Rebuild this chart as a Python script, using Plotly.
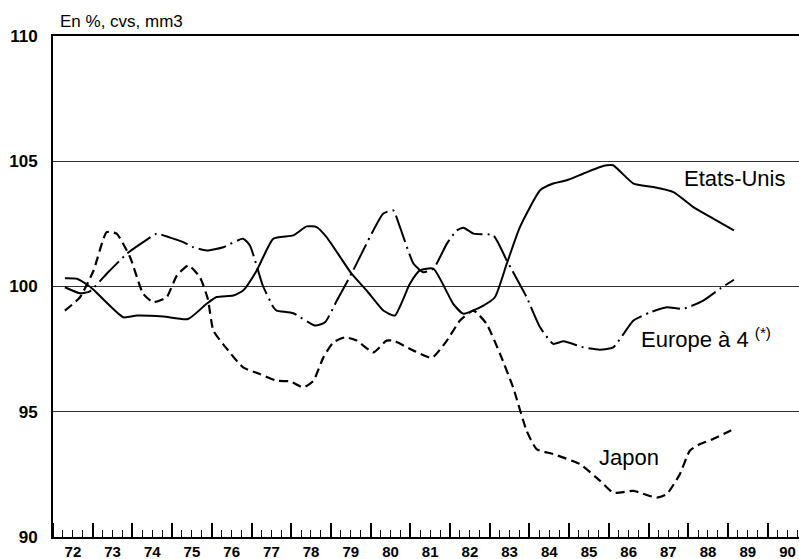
import pandas as pd
import plotly.graph_objects as go

# ---- Data (decimal years on the 19xx scale, index values in %) ----
us_x = [72.30, 72.60, 72.89, 73.02, 73.77, 74.11, 74.78, 75.40, 75.87, 76.12, 76.54, 76.79,
        77.13, 77.55, 78.05, 78.39, 78.64, 78.89, 79.52, 79.90, 80.32, 80.61, 80.99, 81.24,
        81.58, 82.08, 82.34, 82.84, 83.13, 83.43, 83.76, 84.27, 84.60, 84.94, 85.36, 85.78,
        85.95, 86.11, 86.62, 87.12, 87.63, 88.13, 88.63, 89.15]
us_y = [100.33, 100.31, 100.04, 99.87, 98.77, 98.84, 98.80, 98.70, 99.31, 99.58, 99.64, 99.84,
        100.64, 101.91, 102.04, 102.40, 102.37, 101.97, 100.51, 99.84, 99.04, 98.84, 100.11, 100.64,
        100.71, 99.31, 98.91, 99.24, 99.57, 100.91, 102.37, 103.84, 104.11, 104.24, 104.51, 104.77,
        104.84, 104.84, 104.11, 103.97, 103.77, 103.17, 102.71, 102.24]

eu_x = [72.30, 72.68, 72.93, 73.35, 73.86, 74.27, 74.61, 74.95, 75.28, 75.53, 75.87, 76.29,
        76.79, 76.96, 77.28, 77.55, 77.63, 78.05, 78.60, 78.85, 79.15, 79.56, 79.98, 80.32,
        80.57, 80.74, 81.08, 81.33, 81.58, 81.92, 82.17, 82.34, 82.59, 83.09, 83.43, 83.93,
        84.27, 84.60, 84.86, 85.36, 85.78, 86.11, 86.62, 87.04, 87.46, 87.88, 88.38, 88.80, 89.15]
eu_y = [99.97, 99.73, 99.81, 100.51, 101.31, 101.77, 102.11, 101.95, 101.77, 101.57, 101.44, 101.57,
        101.91, 101.64, 100.05, 99.17, 99.04, 98.93, 98.44, 98.57, 99.44, 100.64, 101.97, 102.91,
        103.04, 102.37, 100.91, 100.57, 100.71, 101.71, 102.24, 102.35, 102.11, 102.04, 101.04, 99.57,
        98.37, 97.71, 97.81, 97.57, 97.48, 97.57, 98.64, 98.97, 99.17, 99.11, 99.44, 99.91, 100.27]

jp_x = [72.30, 72.68, 73.02, 73.35, 73.60, 73.94, 74.27, 74.53, 74.86, 75.12, 75.41, 75.70,
        75.90, 76.04, 76.38, 76.79, 77.21, 77.63, 77.97, 78.31, 78.56, 78.81, 79.06, 79.36,
        79.65, 80.07, 80.40, 80.57, 81.08, 81.54, 81.92, 82.25, 82.59, 82.92, 83.26, 83.59,
        83.93, 84.18, 84.60, 85.27, 85.78, 86.11, 86.62, 87.21, 87.46, 87.79, 88.04, 88.30,
        88.63, 88.97, 89.15]
jp_y = [99.04, 99.57, 100.64, 102.17, 102.11, 101.17, 99.71, 99.37, 99.57, 100.44, 100.84, 100.37,
        99.50, 98.24, 97.51, 96.77, 96.51, 96.24, 96.21, 95.97, 96.24, 97.17, 97.77, 97.97,
        97.84, 97.37, 97.84, 97.84, 97.44, 97.15, 97.84, 98.64, 99.04, 98.51, 97.31, 95.97,
        94.24, 93.51, 93.31, 92.91, 92.24, 91.77, 91.84, 91.57, 91.71, 92.51, 93.44, 93.71,
        93.91, 94.17, 94.32]

y_ticks = [90, 95, 100, 105, 110]
x_start, x_end = 72.0, 90.79


def to_date(v):
    year = int(v)
    frac = v - year
    return pd.Timestamp(1900 + year, 1, 1) + pd.Timedelta(days=frac * 365.25)


def dates(xs):
    return [to_date(v) for v in xs]


fig = go.Figure()
fig.add_trace(go.Scatter(x=dates(us_x), y=us_y, mode="lines", name="Etats-Unis",
                         line=dict(color="black", width=2, shape="spline", smoothing=0.5)))
fig.add_trace(go.Scatter(x=dates(eu_x), y=eu_y, mode="lines", name="Europe à 4",
                         line=dict(color="black", width=2, dash="28px,5px,2px,5px",
                                   shape="spline", smoothing=0.5)))
fig.add_trace(go.Scatter(x=dates(jp_x), y=jp_y, mode="lines", name="Japon",
                         line=dict(color="black", width=2.2, dash="9px,5px",
                                   shape="spline", smoothing=0.5)))

txt_font = dict(family="Liberation Sans, Arial, sans-serif", size=22, color="black")
fig.add_annotation(x=to_date(87.84), y=104.32, text="Etats-Unis", showarrow=False,
                   xanchor="left", yanchor="middle", font=txt_font)
fig.add_annotation(x=to_date(86.76), y=97.94, text="Europe à 4 <sup>(*)</sup>", showarrow=False,
                   xanchor="left", yanchor="middle", font=txt_font)
fig.add_annotation(x=to_date(85.70), y=93.16, text="Japon", showarrow=False,
                   xanchor="left", yanchor="middle", font=txt_font)
fig.add_annotation(x=to_date(72.02), xref="x", y=1.028, yref="paper", xshift=4,
                   text="En %, cvs, mm3", showarrow=False, xanchor="left", yanchor="middle",
                   font=dict(family="Liberation Sans, Arial, sans-serif", size=17, color="black"))

fig.update_layout(
    width=799, height=559,
    margin=dict(l=53, r=0, t=36, b=22, autoexpand=False),
    paper_bgcolor="white", plot_bgcolor="white",
    showlegend=False,
    xaxis=dict(
        type="date", automargin=False,
        range=[to_date(x_start), to_date(x_end)],
        tick0=to_date(72.0), dtick="M12", tickformat="%y", ticklabelmode="period",
        ticks="inside", ticklen=14, tickwidth=1.5, tickcolor="black",
        minor=dict(dtick="M3", ticks="inside", ticklen=7, tickwidth=1.2, tickcolor="black",
                   showgrid=False),
        showline=True, linecolor="black", linewidth=2, mirror=True,
        showgrid=False, zeroline=False,
        ticklabelstandoff=0,
        tickfont=dict(family="Liberation Sans, Arial, sans-serif", size=15, color="black",
                      weight="bold"),
    ),
    yaxis=dict(
        range=[90, 110], tickvals=y_ticks, automargin=False,
        showline=True, linecolor="black", linewidth=2,
        showgrid=True, gridcolor="#333333", gridwidth=1,
        zeroline=False, ticks="",
        ticklabelstandoff=10,
        tickfont=dict(family="Liberation Sans, Arial, sans-serif", size=17, color="black",
                      weight="bold"),
    ),
)

fig.write_html("out.html", config={"displayModeBar": False},
               post_script="document.body.style.margin='0';")
